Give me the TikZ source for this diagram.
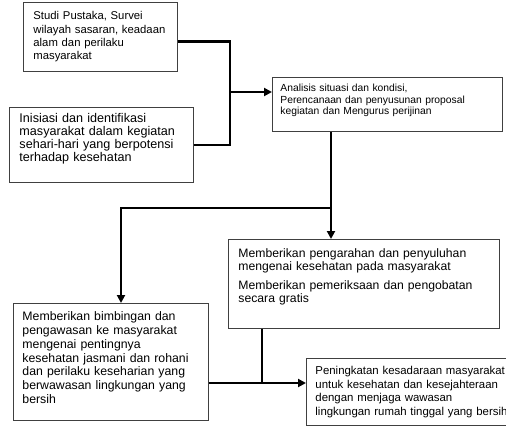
\documentclass[tikz,border=0pt]{standalone}
\usepackage{fontspec}
\setmainfont{Liberation Sans}
\usetikzlibrary{arrows.meta}
\usetikzlibrary{positioning}

\tikzset{
    box/.style={draw=black!75, line width=0.9pt, anchor=north west, align=left, inner ysep=4pt},
    link/.style={line width=2.8pt, black},
    arr/.style={link, -{Triangle[length=8pt,width=8pt]}}
}

\begin{document}
\begin{tikzpicture}[x=1pt, y=-1pt]
    \useasboundingbox (0,0) rectangle (506,426);
    \node [box, inner xsep=10pt, text width=134pt, minimum height=69pt, font=\fontsize{11.3}{13.3}\selectfont] (studi) at (23,2)
        {Studi Pustaka, Survei\\ wilayah sasaran, keadaan\\ alam dan perilaku\\ masyarakat};
    \node [box, inner xsep=10pt, text width=164pt, minimum height=75pt, font=\fontsize{12.6}{12.9}\selectfont] (inisiasi) at (9,107)
        {Inisiasi dan identifikasi\\ masyarakat dalam kegiatan\\ sehari-hari yang berpotensi\\ terhadap kesehatan\\[2pt]\mbox{}};
    \node [box, inner xsep=8pt, text width=214pt, minimum height=54pt, font=\fontsize{10.3}{11.7}\selectfont] (analisis) at (272,77)
        {Analisis situasi dan kondisi,\\ Perencanaan dan penyusunan proposal\\ kegiatan dan Mengurus perijinan\\[-1.5pt]\mbox{}};
    \node [box, inner xsep=10pt, text width=251pt, minimum height=89pt, font=\fontsize{12.2}{13}\selectfont] (arahan) at (228,239)
        {Memberikan pengarahan dan penyuluhan\\ mengenai kesehatan pada masyarakat\\[6pt] Memberikan pemeriksaan dan pengobatan\\ secara gratis\\[3pt]\mbox{}};
    \node [box, inner xsep=9pt, text width=177pt, minimum height=117pt, font=\fontsize{12.3}{13.7}\selectfont] (bimbingan) at (13,303)
        {Memberikan bimbingan dan\\ pengawasan ke masyarakat\\ mengenai pentingnya\\ kesehatan jasmani dan rohani\\ dan perilaku keseharian yang\\ berwawasan lingkungan yang\\ bersih\\[-5pt]\mbox{}};
    \node [box, inner xsep=9pt, text width=194pt, minimum height=67pt, font=\fontsize{11.4}{13.5}\selectfont] (hasil) at (306,358)
        {Peningkatan kesadaraan masyarakat\\ untuk kesehatan dan kesejahteraan\\ dengan menjaga wawasan\\ lingkungan rumah tinggal yang bersih};

    % junctions
    \coordinate (j1) at (230,92);
    \coordinate (j2) at (331,208);
    \coordinate (j3) at (121,208);
    \coordinate (j4) at (262,383);

    \draw [link] ([yshift=-4.5pt]studi.east) -| (j1);
    \draw [link] (inisiasi.east) -| (j1);
    \draw [arr] (j1) -- (j1 -| analisis.west);
    \draw [link] (analisis.south -| j2) -- (j2);
    \draw [arr] (j2) -- (j2 |- arahan.north);
    \draw [arr] (j2) -- (j3) -- (j3 |- bimbingan.north);
    \draw [link] (arahan.south -| j4) -- (j4);
    \draw [arr] (bimbingan.east |- j4) -- (j4 -| hasil.west);
\end{tikzpicture}
\end{document}
